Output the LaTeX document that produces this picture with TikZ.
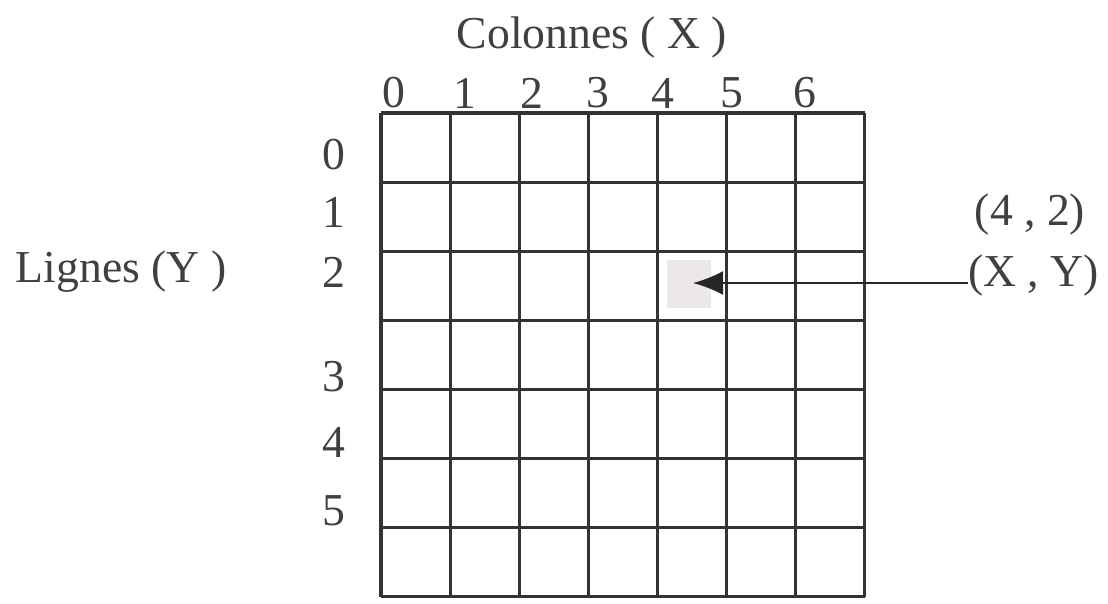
\documentclass[tikz,border=0pt]{standalone}
\usepackage{fontspec}
\setmainfont{Liberation Serif}
\usetikzlibrary{arrows.meta}
\tikzset{
  lbl/.style={font=\fontsize{26}{30}\selectfont, text=black!75, inner sep=0pt},
  gridline/.style={line width=1.8pt, color=black!80},
}
\begin{document}
\begin{tikzpicture}[>={Latex[length=0.6cm,width=0.48cm]}, x=0.02cm, y=-0.02cm]
    \useasboundingbox (0,0) rectangle (1108,603);

    % Case choisie (4,2)
    \fill[red!18!black!9] (667,260) rectangle (711,308);

    % Quadrillage 7 x 7
    \foreach \i in {0,...,7} {
        \draw[gridline] ({381+69.1*\i},113) -- ({381+69.1*\i},597);
        \draw[gridline] (381,{113+69.1*\i}) -- (865,{113+69.1*\i});
    }

    % Titres des axes
    \node[lbl] (titrecol) at (592,38) {Colonnes ( X )};
    \node[lbl] (titrelig) at (121,272) {Lignes (Y )};

    % Numeros des colonnes
    \foreach \c/\xx in {0/394,1/465,2/532,3/598,4/663,5/732,6/805}
        \node[lbl] (col\c) at (\xx,93) {\c};

    % Numeros des lignes
    \foreach \r/\yy in {0/155,1/212,2/272,3/377,4/442,5/511}
        \node[lbl] (row\r) at (334,\yy) {\r};

    % Coordonnees et fleche
    \node[lbl] (coord) at (1030,215) {(4 , 2)};
    \node[lbl, anchor=west] (xy) at (968,276) {(X , Y)};
    \coordinate (tip) at (693,283);
    \draw[->, line width=1.2pt, color=black!85] (xy.west |- 0,283) -- (tip);
\end{tikzpicture}
\end{document}
